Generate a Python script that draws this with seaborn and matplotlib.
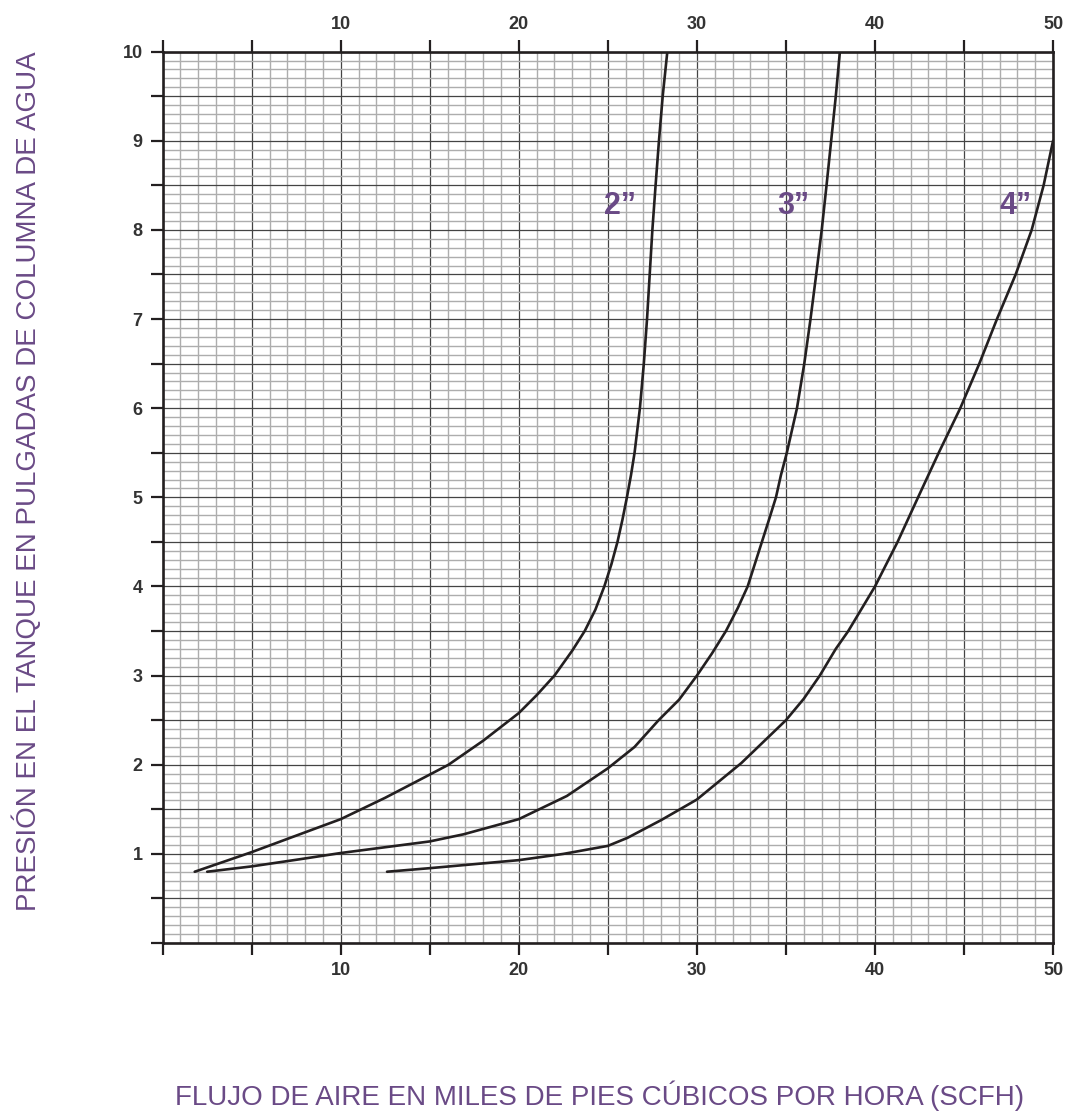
import numpy as np
import pandas as pd
import matplotlib
matplotlib.use('Agg')
import matplotlib.pyplot as plt
from matplotlib import font_manager
from matplotlib.ticker import MultipleLocator, FuncFormatter
import seaborn as sns

# Curvas: flujo (miles SCFH) vs presión (pulg. columna de agua)
flow_2in = [1.8, 5.0, 7.7, 10.0, 12.5, 15.0, 16.05, 18.0, 20.0, 21.0, 22.0, 23.0,
            23.7, 24.3, 24.8, 25.2, 25.54, 25.82, 26.07, 26.3, 26.5, 26.8, 27.02,
            27.2, 27.35, 27.5, 27.68, 27.87, 28.08, 28.34]
pres_2in = [0.8, 1.02, 1.22, 1.39, 1.63, 1.89, 2.0, 2.27, 2.58, 2.78, 3.0, 3.28,
            3.5, 3.74, 4.0, 4.25, 4.5, 4.75, 5.0, 5.25, 5.5, 6.0, 6.5,
            7.0, 7.5, 8.0, 8.5, 9.0, 9.5, 10.0]

flow_3in = [2.5, 5.0, 7.7, 10.0, 15.0, 16.9, 20.0, 22.7, 25.0, 26.5, 27.85, 29.0,
            30.0, 30.85, 31.63, 32.3, 32.85, 33.25, 33.65, 34.05, 34.44, 34.72,
            35.05, 35.62, 36.03, 36.38, 36.7, 37.01, 37.28, 37.54, 37.8, 38.03]
pres_3in = [0.8, 0.86, 0.94, 1.01, 1.14, 1.22, 1.39, 1.65, 1.96, 2.2, 2.5, 2.73,
            3.0, 3.25, 3.5, 3.76, 4.0, 4.25, 4.5, 4.75, 5.0, 5.25,
            5.5, 6.0, 6.5, 7.0, 7.5, 8.0, 8.5, 9.0, 9.5, 10.0]

flow_4in = [12.6, 15.0, 20.0, 22.5, 25.0, 26.1, 28.0, 30.0, 32.5, 35.0, 36.0, 36.9,
            37.8, 38.5, 40.0, 41.27, 42.42, 43.58, 44.79, 45.86, 46.85, 47.9,
            48.8, 49.47, 50.0]
pres_4in = [0.8, 0.84, 0.93, 1.0, 1.09, 1.18, 1.38, 1.61, 2.02, 2.5, 2.74, 3.0,
            3.3, 3.5, 4.0, 4.5, 5.0, 5.5, 6.0, 6.5, 7.0, 7.5,
            8.0, 8.5, 9.0]

sizes = ['2\u201d', '3\u201d', '4\u201d']
label_x = [25.7, 35.4, 47.9]
label_y = [8.27, 8.27, 8.27]

x_label = 'FLUJO DE AIRE EN MILES DE PIES CÚBICOS POR HORA (SCFH)'
y_label = 'PRESIÓN EN EL TANQUE EN PULGADAS DE COLUMNA DE AGUA'

purple = '#6a4a86'
ink = '#231f20'

df = pd.concat([
    pd.DataFrame({'flow': f, 'pressure': p, 'size': s})
    for f, p, s in zip([flow_2in, flow_3in, flow_4in],
                       [pres_2in, pres_3in, pres_4in], sizes)
], ignore_index=True)

sns.set_theme(style='white')
plt.rcParams['font.family'] = ['Liberation Sans', 'DejaVu Sans']

installed = {f.name for f in font_manager.fontManager.ttflist}
if 'Liberation Sans Narrow' in installed:
    title_family, title_size = ['Liberation Sans Narrow', 'Liberation Sans'], 23
else:
    title_family, title_size = ['Liberation Sans', 'DejaVu Sans'], 20

fig = plt.figure(figsize=(10.68, 11.13), dpi=100)
ax = fig.add_axes([0.1523, 0.1527, 0.8337, 0.8009])

sns.lineplot(data=df, x='flow', y='pressure', units='size', estimator=None,
             color=ink, linewidth=1.9, ax=ax, legend=False,
             solid_joinstyle='round', solid_capstyle='round')

ax.set_xlim(0, 50)
ax.set_ylim(0, 10)

ax.xaxis.set_major_locator(MultipleLocator(5))
ax.xaxis.set_minor_locator(MultipleLocator(1))
ax.yaxis.set_major_locator(MultipleLocator(0.5))
ax.yaxis.set_minor_locator(MultipleLocator(0.1))

ax.xaxis.set_major_formatter(FuncFormatter(
    lambda v, pos: f'{int(round(v))}' if v > 0 and round(v) % 10 == 0 else ''))
ax.yaxis.set_major_formatter(FuncFormatter(
    lambda v, pos: f'{int(round(v))}' if v > 0 and abs(v - round(v)) < 1e-6 else ''))

ax.set_axisbelow(True)
ax.grid(which='minor', color='#adadad', linewidth=1.0)
ax.grid(which='major', color='#444444', linewidth=0.9)

ax.tick_params(axis='both', which='major', direction='out', length=8.5, width=1.6,
               color=ink, labelsize=13, labelcolor='#333333', pad=5)
ax.tick_params(axis='x', which='major', top=True, labeltop=True, bottom=True)
ax.tick_params(axis='y', which='major', left=True, right=False, pad=6)
ax.tick_params(which='minor', length=0)
for t in ax.xaxis.get_major_ticks():
    t.label1.set_fontweight('bold')
    t.label2.set_fontweight('bold')
for t in ax.yaxis.get_major_ticks():
    t.label1.set_fontweight('bold')

for side in ['left', 'right', 'top', 'bottom']:
    ax.spines[side].set_visible(True)
    ax.spines[side].set_color(ink)
    ax.spines[side].set_linewidth(1.9)

ax.set_xlabel('')
ax.set_ylabel('')

for s, lx, ly in zip(sizes, label_x, label_y):
    ax.text(lx, ly, s, color=purple, fontsize=22, fontweight='bold',
            ha='center', va='center')

fig.text(0.5618, 0.0072, x_label, color=purple, fontsize=title_size,
         family=title_family, ha='center', va='baseline')
fig.text(0.0258, 0.5678, y_label, color=purple, fontsize=title_size,
         family=title_family, ha='center', va='center', rotation=90)

fig.savefig('out.png', dpi=100)
